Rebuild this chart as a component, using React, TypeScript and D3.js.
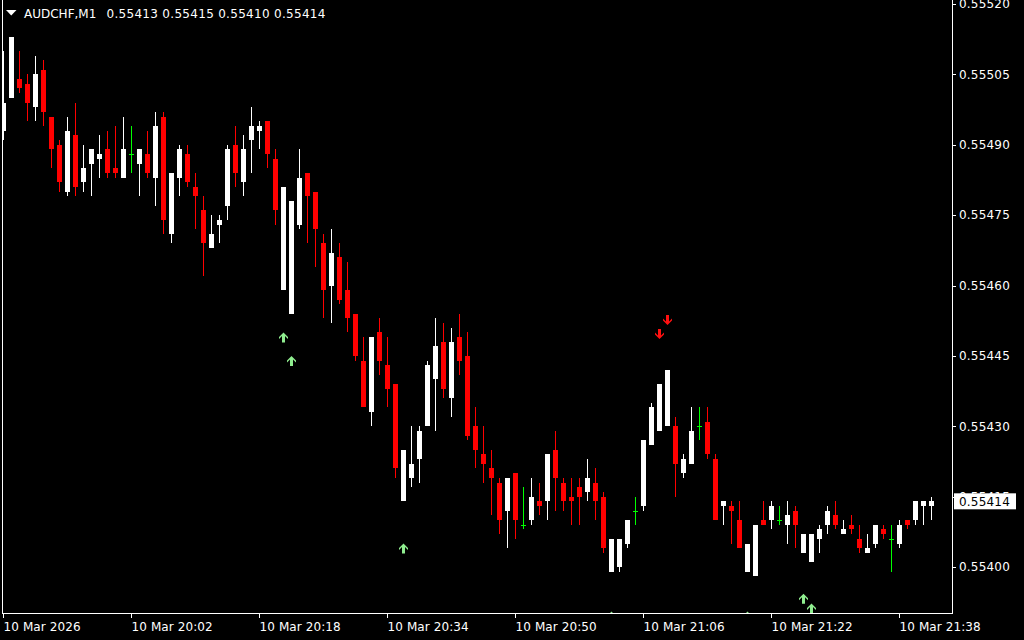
import React from "react";
import * as d3 from "d3";

// Prices in points (x 1e-5)
const opens = [55493,55500,55504,55503,55498,55506,55496,55490,55480,55492,55482,55486,55487,55489,55485,55483,55488,55486,55488,55483,55496,55471,55483,55488,55481,55476,55468,55473,55477,55490,55482,55491,55493,55495,55487,55459,55454,55473,55484,55480,55469,55460,55466,55459,55454,55444,55433,55450,55443,55439,55414,55419,55423,55430,55440,55448,55436,55449,55445,55430,55424,55421,55418,55412,55420,55409,55410,55414,55414,55425,55418,55415,55417,55416,55418,55415,55399,55400,55405,55412,55413,55426,55429,55430,55430,55420,55422,55430,55431,55423,55413,55413,55410,55399,55398,55410,55410,55410,55409,55412,55403,55401,55406,55409,55411,55407,55409,55406,55403,55405,55408,55406,55405,55410,55410,55413,55413];
const highs = [55510,55513,55510,55505,55509,55508,55496,55491,55496,55499,55490,55489,55492,55493,55494,55496,55494,55489,55493,55497,55497,55484,55490,55490,55484,55479,55475,55475,55490,55494,55492,55498,55495,55495,55489,55481,55478,55489,55484,55480,55471,55472,55469,55465,55454,55449,55449,55453,55449,55439,55425,55430,55430,55444,55453,55452,55451,55454,55450,55434,55430,55425,55419,55419,55420,55417,55419,55418,55424,55429,55419,55419,55419,55423,55421,55416,55406,55406,55410,55415,55427,55435,55439,55442,55432,55424,55434,55434,55434,55424,55414,55414,55414,55405,55409,55414,55414,55413,55414,55413,55407,55407,55409,55413,55414,55410,55411,55409,55407,55409,55409,55409,55410,55410,55414,55414,55415];
const lows = [55491,55500,55501,55495,55495,55494,55485,55480,55479,55479,55480,55479,55483,55483,55483,55483,55484,55479,55483,55477,55471,55469,55479,55481,55472,55462,55468,55469,55474,55481,55479,55484,55489,55485,55473,55459,55454,55472,55469,55464,55453,55452,55456,55450,55444,55434,55430,55441,55434,55419,55414,55417,55418,55430,55429,55436,55432,55441,55427,55421,55418,55411,55407,55404,55406,55408,55409,55411,55410,55412,55412,55409,55409,55414,55410,55403,55399,55399,55404,55409,55412,55426,55429,55430,55415,55419,55422,55427,55423,55410,55409,55405,55404,55399,55398,55409,55408,55409,55405,55404,55403,55401,55403,55407,55408,55407,55407,55403,55403,55404,55406,55399,55404,55408,55409,55409,55410];
const closes = [55499,55513,55502,55499,55505,55497,55489,55482,55493,55481,55485,55489,55488,55484,55484,55489,55488,55489,55484,55494,55474,55484,55489,55482,55479,55469,55471,55474,55489,55484,55489,55494,55494,55488,55476,55481,55478,55483,55479,55472,55459,55467,55457,55453,55445,55434,55449,55444,55438,55421,55425,55422,55429,55443,55447,55438,55448,55444,55428,55425,55422,55419,55410,55419,55410,55409,55415,55413,55424,55419,55414,55414,55415,55419,55414,55404,55406,55406,55410,55412,55427,55434,55439,55442,55422,55423,55429,55430,55424,55410,55414,55412,55404,55405,55409,55409,55413,55410,55411,55409,55407,55407,55408,55412,55409,55408,55408,55404,55404,55409,55407,55406,55409,55409,55414,55414,55414];

const upArrowIdx = [35, 36, 50, 76, 93, 100, 101];
const upArrowPrice = [55450, 55445, 55405, 55390.5, 55390.5, 55394.3, 55392.2];
const downArrowIdx = [82, 83];
const downArrowPrice = [55448.6, 55451.6];

const priceTicks = [55520, 55505, 55490, 55475, 55460, 55445, 55430, 55415, 55400];
const timeTickIdx = [0, 16, 32, 48, 64, 80, 96, 112];
const timeTickLabels = ["10 Mar 2026", "10 Mar 20:02", "10 Mar 20:18", "10 Mar 20:34", "10 Mar 20:50", "10 Mar 21:06", "10 Mar 21:22", "10 Mar 21:38"];

const symbolTitle = "AUDCHF,M1";
const ohlcTitle = "0.55413 0.55415 0.55410 0.55414";
const lastPrice = 55414;

const fmt = (p: number) => (p / 100000).toFixed(5);

export default function App() {
  const W = 1024, H = 640;
  const right = 952, bottom = 613;
  const x = d3.scaleLinear().domain([0, 116]).range([3.5, 931.5]);
  const y = d3.scaleLinear().domain([55400, 55520]).range([567, 4]);
  const font = "'DejaVu Sans', Verdana, sans-serif";
  const up = "M0,0 L4.5,4.5 L4.5,6.5 L1.5,3.5 L1.5,10 L-1.5,10 L-1.5,3.5 L-4.5,6.5 L-4.5,4.5 Z";
  const down = "M0,0 L4.5,-4.5 L4.5,-6.5 L1.5,-3.5 L1.5,-10 L-1.5,-10 L-1.5,-3.5 L-4.5,-6.5 L-4.5,-4.5 Z";

  return (
    <svg width={W} height={H} style={{ position: "fixed", left: 0, top: 0, background: "#000", display: "block" }}>
      <rect x={0} y={0} width={W} height={H} fill="#000" />
      <defs>
        <clipPath id="plot">
          <rect x={2} y={0} width={right - 2} height={bottom} />
        </clipPath>
      </defs>
      <g clipPath="url(#plot)" shapeRendering="crispEdges">
        {opens.map((o, i) => {
          const c = closes[i];
          const cx = x(i);
          const doji = o === c;
          const col = doji ? "#00ff00" : c > o ? "#ffffff" : "#ff0000";
          const top = y(Math.max(o, c));
          const bot = y(Math.min(o, c));
          return (
            <g key={i}>
              <line x1={cx} x2={cx} y1={y(highs[i])} y2={y(lows[i])} stroke={col} strokeWidth={1} />
              {doji ? (
                <line x1={cx - 2.5} x2={cx + 2.5} y1={Math.round(top) + 0.5} y2={Math.round(top) + 0.5} stroke={col} strokeWidth={1} />
              ) : (
                <rect x={cx - 2.5} y={top} width={5} height={Math.max(1, bot - top)} fill={col} />
              )}
            </g>
          );
        })}
      </g>
      <g clipPath="url(#plot)">
        {upArrowIdx.map((idx, k) => (
          <path key={"u" + k} d={up} transform={`translate(${x(idx)},${y(upArrowPrice[k])})`} fill="#90ee90" />
        ))}
        {downArrowIdx.map((idx, k) => (
          <path key={"d" + k} d={down} transform={`translate(${x(idx)},${y(downArrowPrice[k])})`} fill="#ff1010" />
        ))}
      </g>
      {/* frame */}
      <g shapeRendering="crispEdges" stroke="#ffffff" strokeWidth={1}>
        <line x1={2.5} x2={2.5} y1={0} y2={bottom + 0.5} />
        <line x1={right + 0.5} x2={right + 0.5} y1={0} y2={bottom + 0.5} />
        <line x1={2} x2={right + 1} y1={bottom + 0.5} y2={bottom + 0.5} />
        {priceTicks.map((p) => (
          <line key={p} x1={right + 1} x2={right + 4} y1={Math.round(y(p)) + 0.5} y2={Math.round(y(p)) + 0.5} />
        ))}
        {timeTickIdx.map((i) => (
          <line key={i} x1={x(i)} x2={x(i)} y1={bottom + 1} y2={bottom + 5} />
        ))}
      </g>
      {/* price labels */}
      <g fontFamily={font} fontSize={12} fill="#ffffff" letterSpacing={0.2}>
        {priceTicks.map((p) => (
          <text key={p} x={959} y={y(p)} dy="0.36em">{fmt(p)}</text>
        ))}
      </g>
      <rect x={954} y={y(lastPrice) - 8} width={62} height={16} fill="#ffffff" />
      <text x={959} y={y(lastPrice)} dy="0.36em" fontFamily={font} fontSize={12} fill="#000000" letterSpacing={0.2}>{fmt(lastPrice)}</text>
      {/* time labels */}
      <g fontFamily={font} fontSize={12} fill="#ffffff" letterSpacing={0.1}>
        {timeTickIdx.map((i, k) => (
          <text key={i} x={x(i)} y={627} dy="0.36em">{timeTickLabels[k]}</text>
        ))}
      </g>
      {/* title */}
      <path d="M6,10 L16.5,10 L11.25,15.5 Z" fill="#ffffff" />
      <text x={24} y={13.5} dy="0.36em" fontFamily={font} fontSize={12} fill="#ffffff">{symbolTitle}</text>
      <text x={106.5} y={13.5} dy="0.36em" fontFamily={font} fontSize={12} fill="#ffffff" letterSpacing={0.3}>{ohlcTitle}</text>
    </svg>
  );
}
